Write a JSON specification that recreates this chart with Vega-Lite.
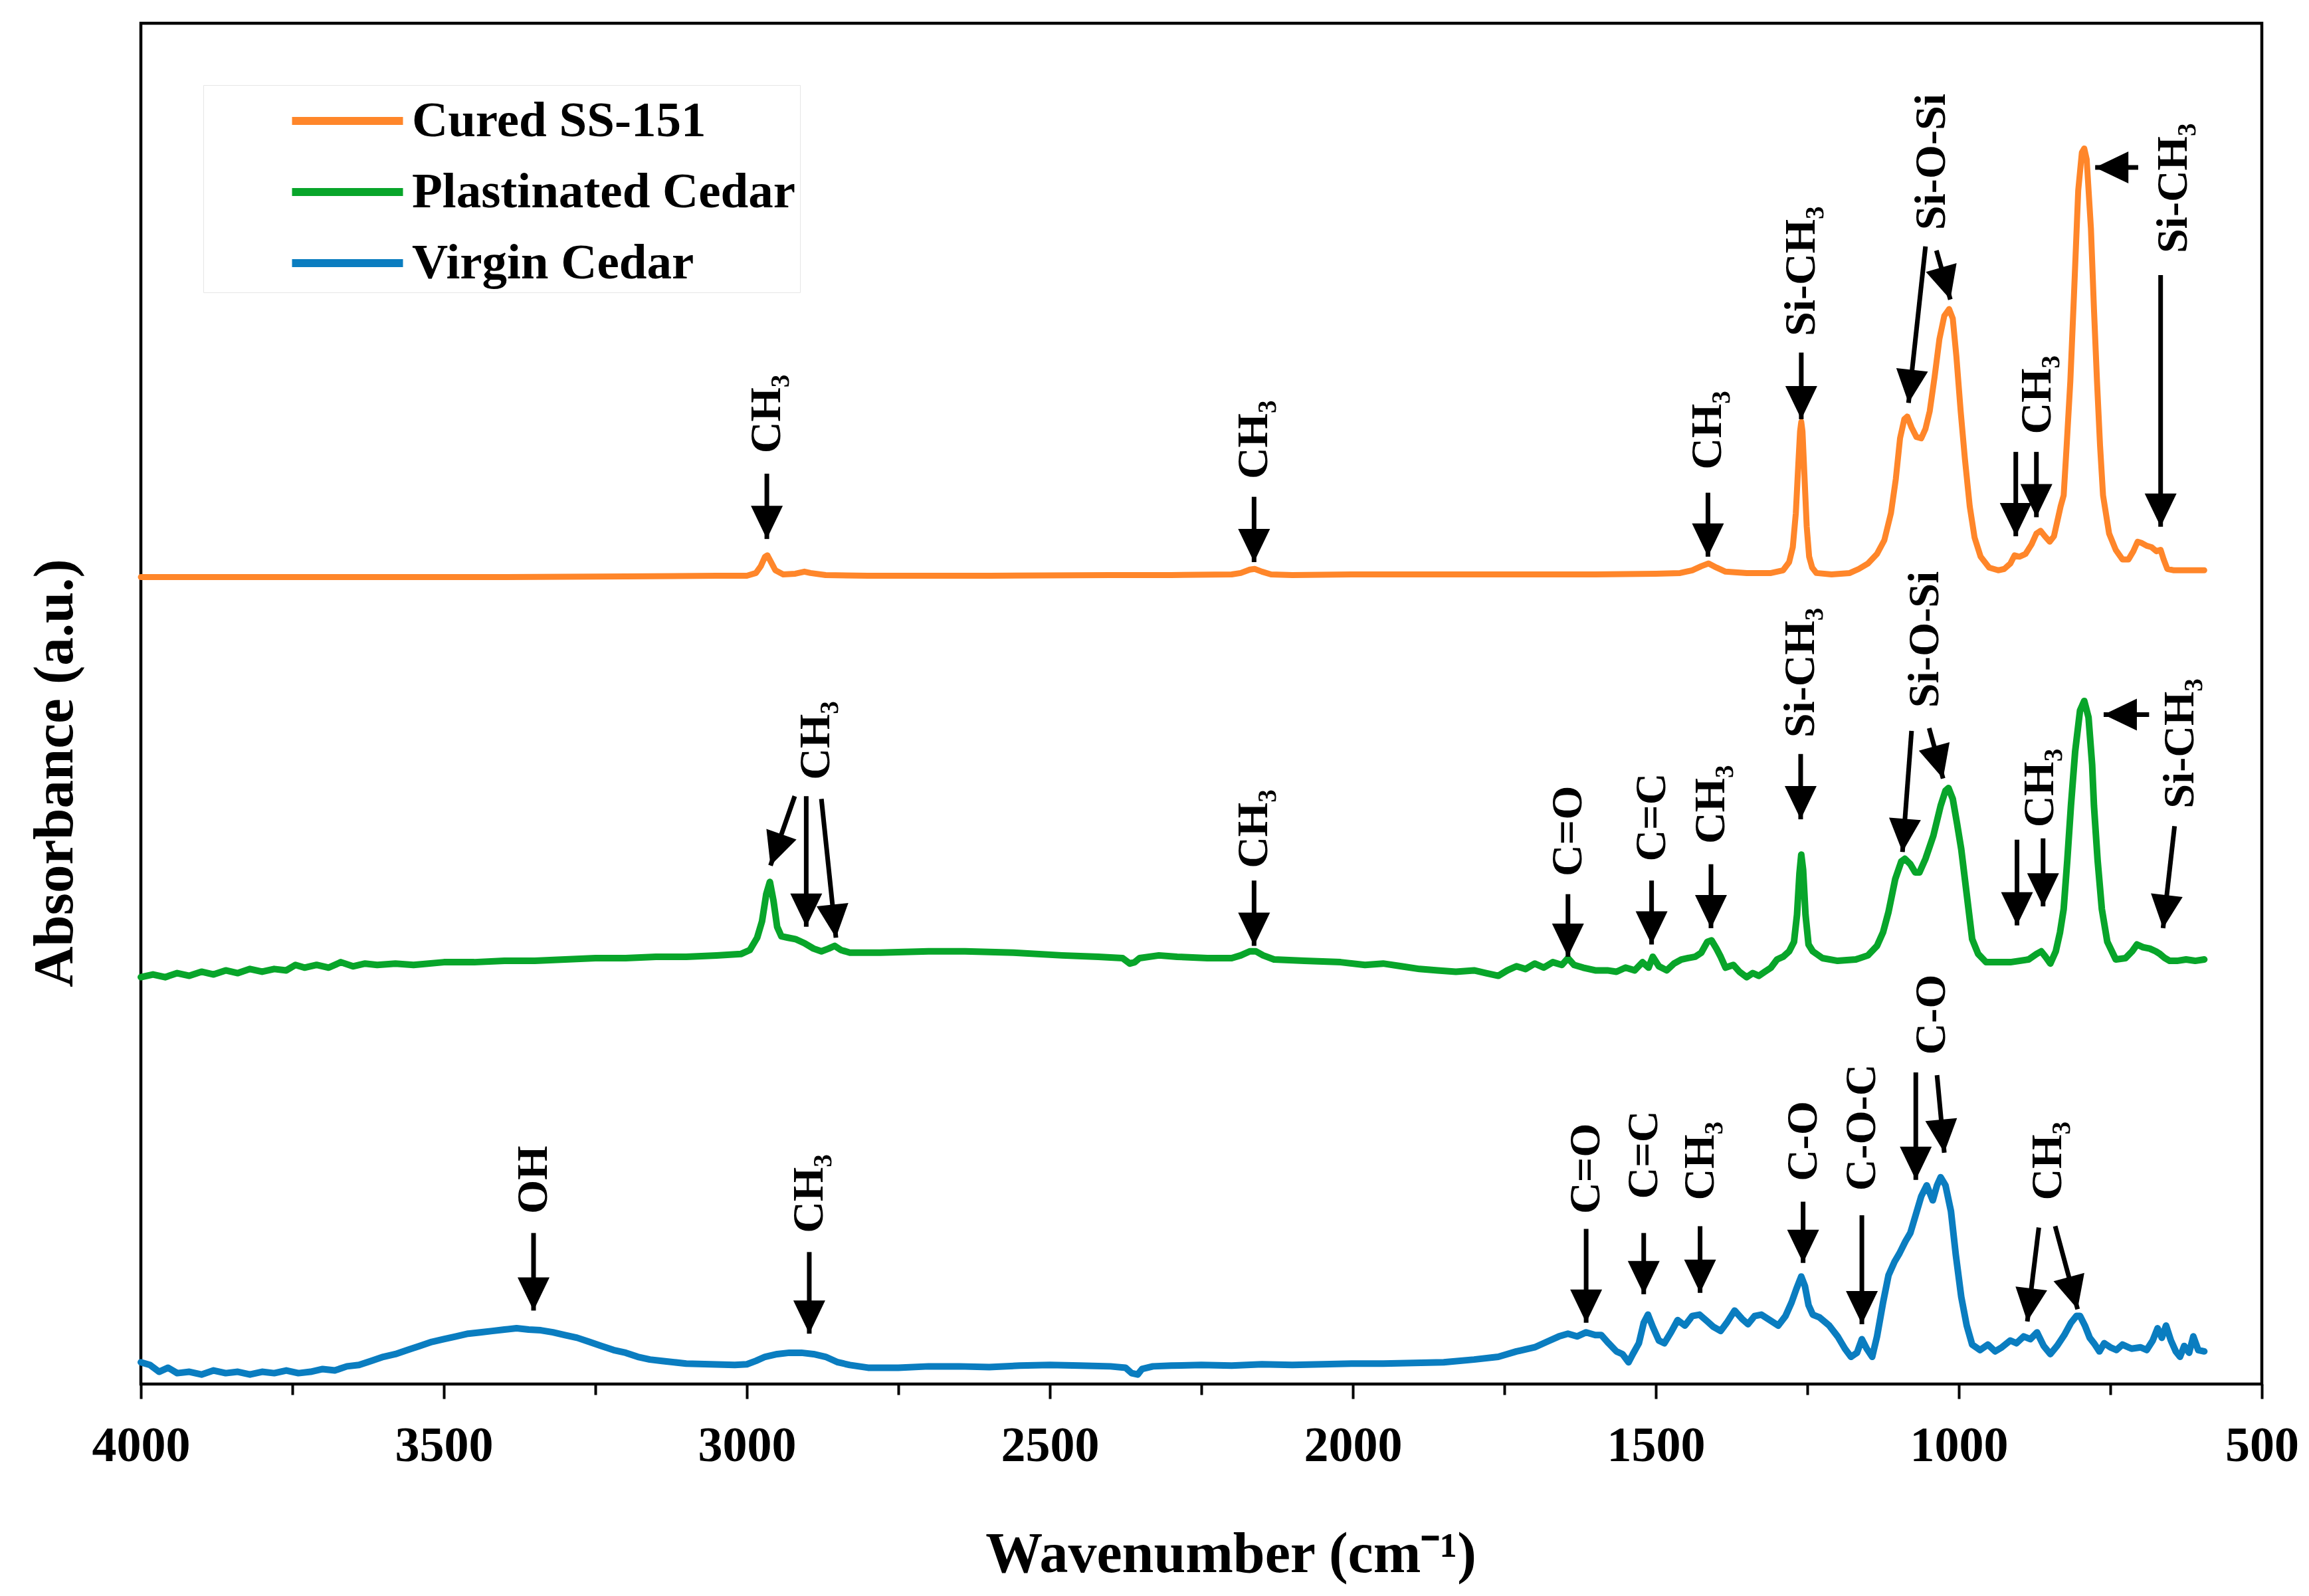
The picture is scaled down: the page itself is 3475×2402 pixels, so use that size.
{
  "$schema": "https://vega.github.io/schema/vega-lite/v6.json",
  "width": 3192,
  "height": 2048,
  "autosize": "none",
  "padding": {"left": 212, "top": 35, "right": 71, "bottom": 319},
  "background": "white",
  "config": {
    "font": "Liberation Serif",
    "view": {"stroke": "black", "strokeWidth": 4.5}
  },
  "datasets": {
    "cured": [
      {"wn":4000,"a":59.3},{"wn":3800,"a":59.3},{"wn":3600,"a":59.3},{"wn":3400,"a":59.3},{"wn":3200,"a":59.35},{"wn":3050,"a":59.4},{"wn":3000,"a":59.4},{"wn":2985,"a":59.6},{"wn":2977,"a":60.1},{"wn":2970,"a":60.8},{"wn":2966,"a":60.9},{"wn":2960,"a":60.4},{"wn":2953,"a":59.8},{"wn":2940,"a":59.5},{"wn":2920,"a":59.55},{"wn":2905,"a":59.7},{"wn":2895,"a":59.6},{"wn":2870,"a":59.45},{"wn":2800,"a":59.4},{"wn":2600,"a":59.4},{"wn":2400,"a":59.45},{"wn":2300,"a":59.45},{"wn":2200,"a":59.5},{"wn":2185,"a":59.6},{"wn":2170,"a":59.85},{"wn":2162,"a":59.9},{"wn":2150,"a":59.7},{"wn":2135,"a":59.5},{"wn":2100,"a":59.45},{"wn":2000,"a":59.5},{"wn":1800,"a":59.5},{"wn":1600,"a":59.5},{"wn":1500,"a":59.55},{"wn":1460,"a":59.6},{"wn":1440,"a":59.8},{"wn":1425,"a":60.1},{"wn":1413,"a":60.3},{"wn":1400,"a":60.0},{"wn":1385,"a":59.7},{"wn":1350,"a":59.6},{"wn":1310,"a":59.6},{"wn":1290,"a":59.8},{"wn":1280,"a":60.4},{"wn":1274,"a":61.5},{"wn":1269,"a":64},{"wn":1265,"a":67.5},{"wn":1262,"a":70},{"wn":1260,"a":70.7},{"wn":1258,"a":70},{"wn":1255,"a":67},{"wn":1251,"a":63},{"wn":1247,"a":60.8},{"wn":1242,"a":60},{"wn":1235,"a":59.6},{"wn":1210,"a":59.5},{"wn":1180,"a":59.6},{"wn":1165,"a":59.9},{"wn":1150,"a":60.3},{"wn":1135,"a":61},{"wn":1123,"a":62},{"wn":1112,"a":64},{"wn":1104,"a":66.5},{"wn":1097,"a":69.5},{"wn":1090,"a":70.9},{"wn":1085,"a":71.1},{"wn":1078,"a":70.3},{"wn":1070,"a":69.6},{"wn":1062,"a":69.5},{"wn":1055,"a":70.2},{"wn":1048,"a":71.5},{"wn":1040,"a":74},{"wn":1032,"a":76.8},{"wn":1024,"a":78.5},{"wn":1016,"a":79.0},{"wn":1010,"a":78.3},{"wn":1004,"a":75.5},{"wn":997,"a":71.5},{"wn":990,"a":68},{"wn":982,"a":64.5},{"wn":974,"a":62.2},{"wn":964,"a":60.8},{"wn":950,"a":60},{"wn":935,"a":59.8},{"wn":925,"a":59.9},{"wn":915,"a":60.3},{"wn":908,"a":60.9},{"wn":900,"a":60.8},{"wn":890,"a":61},{"wn":880,"a":61.7},{"wn":872,"a":62.5},{"wn":865,"a":62.7},{"wn":858,"a":62.3},{"wn":850,"a":61.9},{"wn":843,"a":62.3},{"wn":837,"a":63.5},{"wn":832,"a":64.5},{"wn":827,"a":65.3},{"wn":822,"a":69},{"wn":816,"a":73.7},{"wn":810,"a":80},{"wn":803,"a":87.7},{"wn":797,"a":90.5},{"wn":793,"a":90.8},{"wn":789,"a":90},{"wn":782,"a":84.9},{"wn":777,"a":79},{"wn":772,"a":73.7},{"wn":767,"a":69},{"wn":762,"a":65.3},{"wn":752,"a":62.5},{"wn":741,"a":61.3},{"wn":730,"a":60.6},{"wn":720,"a":60.6},{"wn":712,"a":61.2},{"wn":705,"a":61.9},{"wn":698,"a":61.8},{"wn":690,"a":61.6},{"wn":682,"a":61.5},{"wn":674,"a":61.2},{"wn":667,"a":61.3},{"wn":662,"a":60.6},{"wn":656,"a":59.9},{"wn":645,"a":59.8},{"wn":620,"a":59.8},{"wn":595,"a":59.8}
    ],
    "plastinated": [
      {"wn":4000,"a":29.9},{"wn":3980,"a":30.1},{"wn":3960,"a":29.9},{"wn":3940,"a":30.2},{"wn":3920,"a":30.0},{"wn":3900,"a":30.3},{"wn":3880,"a":30.1},{"wn":3860,"a":30.4},{"wn":3840,"a":30.2},{"wn":3820,"a":30.5},{"wn":3800,"a":30.3},{"wn":3780,"a":30.5},{"wn":3760,"a":30.4},{"wn":3745,"a":30.8},{"wn":3730,"a":30.6},{"wn":3710,"a":30.8},{"wn":3690,"a":30.6},{"wn":3670,"a":31.0},{"wn":3650,"a":30.7},{"wn":3630,"a":30.9},{"wn":3610,"a":30.8},{"wn":3580,"a":30.9},{"wn":3550,"a":30.8},{"wn":3500,"a":31.0},{"wn":3450,"a":31.0},{"wn":3400,"a":31.1},{"wn":3350,"a":31.1},{"wn":3300,"a":31.2},{"wn":3250,"a":31.3},{"wn":3200,"a":31.3},{"wn":3150,"a":31.4},{"wn":3100,"a":31.4},{"wn":3050,"a":31.5},{"wn":3010,"a":31.6},{"wn":2995,"a":31.9},{"wn":2983,"a":32.8},{"wn":2975,"a":34.0},{"wn":2968,"a":36},{"wn":2962,"a":36.9},{"wn":2956,"a":35.5},{"wn":2950,"a":33.6},{"wn":2943,"a":32.9},{"wn":2932,"a":32.8},{"wn":2920,"a":32.7},{"wn":2905,"a":32.4},{"wn":2890,"a":32.0},{"wn":2877,"a":31.8},{"wn":2865,"a":32.0},{"wn":2855,"a":32.2},{"wn":2845,"a":31.9},{"wn":2830,"a":31.7},{"wn":2780,"a":31.7},{"wn":2700,"a":31.8},{"wn":2640,"a":31.8},{"wn":2560,"a":31.7},{"wn":2480,"a":31.5},{"wn":2420,"a":31.4},{"wn":2380,"a":31.3},{"wn":2368,"a":30.9},{"wn":2360,"a":31.0},{"wn":2352,"a":31.3},{"wn":2320,"a":31.5},{"wn":2290,"a":31.4},{"wn":2240,"a":31.3},{"wn":2200,"a":31.3},{"wn":2185,"a":31.5},{"wn":2170,"a":31.8},{"wn":2160,"a":31.8},{"wn":2148,"a":31.5},{"wn":2130,"a":31.2},{"wn":2080,"a":31.1},{"wn":2020,"a":31.0},{"wn":1980,"a":30.8},{"wn":1950,"a":30.9},{"wn":1920,"a":30.7},{"wn":1890,"a":30.5},{"wn":1860,"a":30.4},{"wn":1830,"a":30.3},{"wn":1800,"a":30.4},{"wn":1780,"a":30.2},{"wn":1760,"a":30.0},{"wn":1745,"a":30.4},{"wn":1730,"a":30.7},{"wn":1715,"a":30.5},{"wn":1700,"a":30.9},{"wn":1685,"a":30.6},{"wn":1670,"a":31.0},{"wn":1655,"a":30.8},{"wn":1645,"a":31.3},{"wn":1635,"a":30.8},{"wn":1620,"a":30.6},{"wn":1600,"a":30.4},{"wn":1580,"a":30.4},{"wn":1565,"a":30.3},{"wn":1550,"a":30.6},{"wn":1535,"a":30.4},{"wn":1522,"a":31.0},{"wn":1512,"a":30.6},{"wn":1505,"a":31.4},{"wn":1495,"a":30.7},{"wn":1482,"a":30.4},{"wn":1470,"a":30.9},{"wn":1458,"a":31.2},{"wn":1447,"a":31.3},{"wn":1435,"a":31.4},{"wn":1425,"a":31.7},{"wn":1415,"a":32.5},{"wn":1408,"a":32.6},{"wn":1400,"a":32.0},{"wn":1393,"a":31.4},{"wn":1385,"a":30.6},{"wn":1372,"a":30.8},{"wn":1362,"a":30.3},{"wn":1350,"a":29.9},{"wn":1340,"a":30.2},{"wn":1330,"a":30.0},{"wn":1320,"a":30.3},{"wn":1310,"a":30.6},{"wn":1300,"a":31.2},{"wn":1290,"a":31.4},{"wn":1280,"a":31.8},{"wn":1272,"a":32.5},{"wn":1267,"a":34.5},{"wn":1263,"a":37.5},{"wn":1260,"a":38.9},{"wn":1257,"a":37.8},{"wn":1253,"a":34.5},{"wn":1248,"a":32.3},{"wn":1241,"a":31.8},{"wn":1225,"a":31.3},{"wn":1200,"a":31.1},{"wn":1170,"a":31.2},{"wn":1150,"a":31.5},{"wn":1135,"a":32.2},{"wn":1125,"a":33.2},{"wn":1116,"a":34.7},{"wn":1105,"a":37.1},{"wn":1095,"a":38.4},{"wn":1089,"a":38.6},{"wn":1080,"a":38.2},{"wn":1072,"a":37.6},{"wn":1065,"a":37.6},{"wn":1055,"a":38.6},{"wn":1042,"a":40.3},{"wn":1030,"a":42.5},{"wn":1022,"a":43.6},{"wn":1017,"a":43.8},{"wn":1010,"a":43.0},{"wn":1003,"a":41.2},{"wn":996,"a":39.3},{"wn":987,"a":36.0},{"wn":978,"a":32.7},{"wn":968,"a":31.6},{"wn":955,"a":31.0},{"wn":935,"a":31.0},{"wn":915,"a":31.0},{"wn":900,"a":31.1},{"wn":885,"a":31.2},{"wn":872,"a":31.6},{"wn":864,"a":31.8},{"wn":857,"a":31.4},{"wn":849,"a":30.9},{"wn":840,"a":31.8},{"wn":833,"a":33.2},{"wn":827,"a":34.9},{"wn":821,"a":38.5},{"wn":815,"a":42.5},{"wn":808,"a":46.5},{"wn":800,"a":49.5},{"wn":793,"a":50.2},{"wn":786,"a":49.0},{"wn":780,"a":45.5},{"wn":777,"a":42.5},{"wn":771,"a":38.5},{"wn":764,"a":34.9},{"wn":755,"a":32.5},{"wn":741,"a":31.2},{"wn":725,"a":31.3},{"wn":714,"a":31.8},{"wn":706,"a":32.3},{"wn":696,"a":32.1},{"wn":685,"a":32.0},{"wn":675,"a":31.8},{"wn":668,"a":31.6},{"wn":660,"a":31.3},{"wn":652,"a":31.1},{"wn":640,"a":31.1},{"wn":625,"a":31.2},{"wn":610,"a":31.1},{"wn":595,"a":31.2}
    ],
    "virgin": [
      {"wn":4000,"a":1.6},{"wn":3985,"a":1.4},{"wn":3970,"a":0.9},{"wn":3955,"a":1.2},{"wn":3940,"a":0.8},{"wn":3920,"a":0.9},{"wn":3900,"a":0.7},{"wn":3880,"a":1.0},{"wn":3860,"a":0.8},{"wn":3840,"a":0.9},{"wn":3820,"a":0.7},{"wn":3800,"a":0.9},{"wn":3780,"a":0.8},{"wn":3760,"a":1.0},{"wn":3740,"a":0.8},{"wn":3720,"a":0.9},{"wn":3700,"a":1.1},{"wn":3680,"a":1.0},{"wn":3660,"a":1.3},{"wn":3640,"a":1.4},{"wn":3620,"a":1.7},{"wn":3600,"a":2.0},{"wn":3580,"a":2.2},{"wn":3560,"a":2.5},{"wn":3540,"a":2.8},{"wn":3520,"a":3.1},{"wn":3500,"a":3.3},{"wn":3480,"a":3.5},{"wn":3460,"a":3.7},{"wn":3440,"a":3.8},{"wn":3420,"a":3.9},{"wn":3400,"a":4.0},{"wn":3380,"a":4.1},{"wn":3360,"a":4.0},{"wn":3340,"a":3.95},{"wn":3320,"a":3.8},{"wn":3300,"a":3.6},{"wn":3280,"a":3.4},{"wn":3260,"a":3.1},{"wn":3240,"a":2.8},{"wn":3220,"a":2.5},{"wn":3200,"a":2.3},{"wn":3180,"a":2.0},{"wn":3160,"a":1.8},{"wn":3140,"a":1.7},{"wn":3120,"a":1.6},{"wn":3100,"a":1.5},{"wn":3060,"a":1.45},{"wn":3020,"a":1.4},{"wn":3000,"a":1.45},{"wn":2985,"a":1.7},{"wn":2970,"a":2.0},{"wn":2950,"a":2.2},{"wn":2930,"a":2.3},{"wn":2910,"a":2.3},{"wn":2890,"a":2.2},{"wn":2870,"a":2.0},{"wn":2850,"a":1.6},{"wn":2830,"a":1.4},{"wn":2800,"a":1.2},{"wn":2750,"a":1.2},{"wn":2700,"a":1.3},{"wn":2650,"a":1.3},{"wn":2600,"a":1.25},{"wn":2550,"a":1.35},{"wn":2500,"a":1.4},{"wn":2450,"a":1.35},{"wn":2400,"a":1.3},{"wn":2375,"a":1.2},{"wn":2365,"a":0.8},{"wn":2355,"a":0.7},{"wn":2348,"a":1.1},{"wn":2330,"a":1.3},{"wn":2300,"a":1.35},{"wn":2250,"a":1.4},{"wn":2200,"a":1.35},{"wn":2150,"a":1.45},{"wn":2100,"a":1.4},{"wn":2050,"a":1.45},{"wn":2000,"a":1.5},{"wn":1950,"a":1.5},{"wn":1900,"a":1.55},{"wn":1850,"a":1.6},{"wn":1800,"a":1.8},{"wn":1760,"a":2.0},{"wn":1730,"a":2.4},{"wn":1700,"a":2.7},{"wn":1680,"a":3.1},{"wn":1660,"a":3.5},{"wn":1645,"a":3.7},{"wn":1630,"a":3.5},{"wn":1615,"a":3.8},{"wn":1600,"a":3.6},{"wn":1590,"a":3.6},{"wn":1578,"a":3.0},{"wn":1565,"a":2.4},{"wn":1555,"a":2.2},{"wn":1545,"a":1.6},{"wn":1538,"a":2.2},{"wn":1528,"a":3.0},{"wn":1520,"a":4.5},{"wn":1513,"a":5.1},{"wn":1505,"a":4.2},{"wn":1495,"a":3.2},{"wn":1486,"a":3.0},{"wn":1475,"a":3.8},{"wn":1464,"a":4.7},{"wn":1452,"a":4.3},{"wn":1440,"a":5.0},{"wn":1428,"a":5.1},{"wn":1415,"a":4.6},{"wn":1405,"a":4.2},{"wn":1393,"a":3.9},{"wn":1383,"a":4.5},{"wn":1370,"a":5.4},{"wn":1358,"a":4.8},{"wn":1348,"a":4.4},{"wn":1337,"a":5.0},{"wn":1326,"a":5.1},{"wn":1312,"a":4.7},{"wn":1298,"a":4.3},{"wn":1286,"a":5.0},{"wn":1276,"a":6.0},{"wn":1268,"a":7.0},{"wn":1260,"a":7.9},{"wn":1254,"a":7.2},{"wn":1248,"a":5.8},{"wn":1241,"a":5.1},{"wn":1230,"a":4.9},{"wn":1214,"a":4.3},{"wn":1200,"a":3.5},{"wn":1188,"a":2.6},{"wn":1178,"a":2.0},{"wn":1168,"a":2.3},{"wn":1160,"a":3.3},{"wn":1152,"a":2.6},{"wn":1143,"a":2.0},{"wn":1135,"a":3.5},{"wn":1125,"a":6.0},{"wn":1116,"a":8.0},{"wn":1106,"a":9.0},{"wn":1098,"a":9.6},{"wn":1088,"a":10.5},{"wn":1080,"a":11.1},{"wn":1072,"a":12.3},{"wn":1062,"a":13.8},{"wn":1053,"a":14.6},{"wn":1043,"a":13.5},{"wn":1036,"a":14.6},{"wn":1030,"a":15.2},{"wn":1022,"a":14.6},{"wn":1013,"a":12.7},{"wn":1005,"a":9.5},{"wn":996,"a":6.4},{"wn":987,"a":4.3},{"wn":978,"a":2.9},{"wn":965,"a":2.5},{"wn":952,"a":2.9},{"wn":940,"a":2.4},{"wn":929,"a":2.7},{"wn":915,"a":3.2},{"wn":905,"a":3.0},{"wn":893,"a":3.5},{"wn":882,"a":3.3},{"wn":871,"a":3.8},{"wn":860,"a":2.8},{"wn":849,"a":2.2},{"wn":838,"a":2.8},{"wn":826,"a":3.6},{"wn":815,"a":4.5},{"wn":806,"a":5.0},{"wn":800,"a":5.0},{"wn":792,"a":4.3},{"wn":784,"a":3.4},{"wn":777,"a":3.0},{"wn":768,"a":2.4},{"wn":760,"a":3.0},{"wn":750,"a":2.7},{"wn":740,"a":2.5},{"wn":730,"a":2.9},{"wn":715,"a":2.6},{"wn":700,"a":2.7},{"wn":690,"a":2.5},{"wn":680,"a":3.2},{"wn":672,"a":4.1},{"wn":665,"a":3.4},{"wn":658,"a":4.3},{"wn":650,"a":3.2},{"wn":642,"a":2.4},{"wn":635,"a":2.0},{"wn":628,"a":2.8},{"wn":620,"a":2.3},{"wn":613,"a":3.5},{"wn":605,"a":2.5},{"wn":595,"a":2.4}
    ],
    "labels": [
      {"label":"CH₃","wn":2967,"a":68.4},
      {"label":"CH₃","wn":2163,"a":66.5},
      {"label":"CH₃","wn":1414,"a":67.2},
      {"label":"Si-CH₃","wn":1260,"a":77.0},
      {"label":"Si-O-Si","wn":1045,"a":84.8},
      {"label":"CH₃","wn":871,"a":69.8},
      {"label":"Si-CH₃","wn":646,"a":83.1},
      {"label":"CH₃","wn":2886,"a":44.4},
      {"label":"CH₃","wn":2163,"a":37.9},
      {"label":"C=O","wn":1645,"a":37.3},
      {"label":"C=C","wn":1507,"a":38.4},
      {"label":"CH₃","wn":1409,"a":39.7},
      {"label":"Si-CH₃","wn":1261,"a":47.5},
      {"label":"Si-O-Si","wn":1056,"a":49.7},
      {"label":"CH₃","wn":866,"a":40.9},
      {"label":"Si-CH₃","wn":635,"a":42.3},
      {"label":"OH","wn":3352,"a":12.5},
      {"label":"CH₃","wn":2897,"a":11.1},
      {"label":"C=O","wn":1615,"a":12.5},
      {"label":"C=C","wn":1520,"a":13.6},
      {"label":"CH₃","wn":1427,"a":13.5},
      {"label":"C-O","wn":1257,"a":14.9},
      {"label":"C-O-C","wn":1160,"a":14.2},
      {"label":"C-O","wn":1045,"a":24.2},
      {"label":"CH₃","wn":853,"a":13.5}
    ],
    "arrows": [
      {"wn":2967,"a":66.9,"wn2":2967,"a2":62.1},
      {"wn":2163,"a":65.2,"wn2":2163,"a2":60.4},
      {"wn":1414,"a":65.5,"wn2":1414,"a2":60.8},
      {"wn":1260,"a":75.8,"wn2":1260,"a2":70.9},
      {"wn":1055,"a":83.6,"wn2":1083,"a2":72.1},
      {"wn":1037,"a":83.3,"wn2":1014,"a2":79.7},
      {"wn":906,"a":68.5,"wn2":906,"a2":62.3},
      {"wn":872,"a":68.5,"wn2":872,"a2":63.7},
      {"wn":704,"a":89.4,"wn2":775,"a2":89.4},
      {"wn":667,"a":81.5,"wn2":667,"a2":63.0},
      {"wn":2921,"a":43.2,"wn2":2961,"a2":38.1},
      {"wn":2902,"a":43.2,"wn2":2902,"a2":33.6},
      {"wn":2877,"a":43.0,"wn2":2853,"a2":32.8},
      {"wn":2163,"a":37.0,"wn2":2163,"a2":32.2},
      {"wn":1645,"a":36.0,"wn2":1645,"a2":31.4},
      {"wn":1507,"a":37.0,"wn2":1507,"a2":32.3},
      {"wn":1409,"a":38.2,"wn2":1409,"a2":33.5},
      {"wn":1261,"a":46.3,"wn2":1261,"a2":41.5},
      {"wn":1078,"a":48.0,"wn2":1093,"a2":39.1},
      {"wn":1049,"a":48.2,"wn2":1026,"a2":44.5},
      {"wn":904,"a":40.0,"wn2":904,"a2":33.7},
      {"wn":861,"a":40.1,"wn2":861,"a2":35.1},
      {"wn":686,"a":49.2,"wn2":761,"a2":49.2},
      {"wn":644,"a":41.0,"wn2":663,"a2":33.5},
      {"wn":3352,"a":11.1,"wn2":3352,"a2":5.4},
      {"wn":2897,"a":9.7,"wn2":2897,"a2":3.7},
      {"wn":1615,"a":11.4,"wn2":1615,"a2":4.5},
      {"wn":1520,"a":11.1,"wn2":1520,"a2":6.6},
      {"wn":1427,"a":11.6,"wn2":1427,"a2":6.7},
      {"wn":1257,"a":13.4,"wn2":1257,"a2":8.9},
      {"wn":1160,"a":12.4,"wn2":1160,"a2":4.4},
      {"wn":1071,"a":22.9,"wn2":1071,"a2":15.0},
      {"wn":1036,"a":22.7,"wn2":1024,"a2":17.0},
      {"wn":868,"a":11.5,"wn2":887,"a2":4.6},
      {"wn":841,"a":11.6,"wn2":804,"a2":5.5}
    ]
  },
  "layer": [
    {
      "data": {"name": "cured"},
      "mark": {"type": "line", "strokeWidth": 9, "strokeJoin": "round", "strokeCap": "round"},
      "encoding": {
        "x": {
          "field": "wn", "type": "quantitative",
          "scale": {"domain": [500, 4000], "reverse": true, "nice": false},
          "axis": {
            "title": "Wavenumber (cm⁻¹)",
            "values": [500, 750, 1000, 1250, 1500, 1750, 2000, 2250, 2500, 2750, 3000, 3250, 3500, 3750, 4000],
            "format": "d",
            "labelExpr": "datum.value % 500 === 0 ? datum.label : ''",
            "tickSize": {"condition": {"test": "datum.value % 500 === 0", "value": 22}, "value": 16},
            "tickWidth": 4,
            "tickColor": "black",
            "domain": false,
            "grid": false,
            "labelFont": "Liberation Serif",
            "labelFontWeight": "bold",
            "labelFontSize": 74,
            "labelColor": "black",
            "labelBaseline": "alphabetic",
            "labelPadding": 93,
            "labelFlush": false,
            "labelOverlap": false,
            "titleFont": "Liberation Serif",
            "titleFontWeight": "bold",
            "titleFontSize": 86,
            "titleColor": "black",
            "titleBaseline": "alphabetic",
            "titleAlign": "center",
            "titleX": 1640,
            "titleY": 282
          }
        },
        "y": {
          "field": "a", "type": "quantitative",
          "scale": {"domain": [0, 100], "nice": false},
          "axis": {
            "title": "Absorbance (a.u.)",
            "ticks": false,
            "labels": false,
            "domain": false,
            "grid": false,
            "titleFont": "Liberation Serif",
            "titleFontWeight": "bold",
            "titleFontSize": 85,
            "titleColor": "black",
            "titleAngle": 270,
            "titleAlign": "center",
            "titleBaseline": "alphabetic",
            "titleX": -104,
            "titleY": 1128
          }
        },
        "color": {
          "datum": "Cured SS-151",
          "type": "nominal",
          "scale": {
            "domain": ["Cured SS-151", "Plastinated Cedar", "Virgin Cedar"],
            "range": ["#FF862A", "#08A52A", "#0A7DC0"]
          },
          "legend": {
            "title": null,
            "orient": "none",
            "legendX": 94,
            "legendY": 93,
            "padding": 6,
            "strokeColor": "#e6e6e6",
            "fillColor": "white",
            "symbolType": "M-2,0L2,0",
            "symbolSize": 6972,
            "symbolStrokeWidth": 12,
            "symbolStrokeCap": "round",
            "symbolOffset": 163,
            "labelFont": "Liberation Serif",
            "labelFontWeight": "bold",
            "labelFontSize": 75,
            "labelColor": "black",
            "labelOffset": 49,
            "labelLimit": 1000,
            "rowPadding": 21
          }
        }
      }
    },
    {
      "data": {"name": "plastinated"},
      "mark": {"type": "line", "strokeWidth": 10, "strokeJoin": "round", "strokeCap": "round"},
      "encoding": {
        "x": {"field": "wn", "type": "quantitative"},
        "y": {"field": "a", "type": "quantitative"},
        "color": {"datum": "Plastinated Cedar", "type": "nominal"}
      }
    },
    {
      "data": {"name": "virgin"},
      "mark": {"type": "line", "strokeWidth": 10, "strokeJoin": "round", "strokeCap": "round"},
      "encoding": {
        "x": {"field": "wn", "type": "quantitative"},
        "y": {"field": "a", "type": "quantitative"},
        "color": {"datum": "Virgin Cedar", "type": "nominal"}
      }
    },
    {
      "data": {"name": "arrows"},
      "mark": {"type": "rule", "strokeWidth": 7, "color": "black"},
      "encoding": {
        "x": {"field": "wn", "type": "quantitative"},
        "y": {"field": "a", "type": "quantitative"},
        "x2": {"field": "wn2"},
        "y2": {"field": "a2"}
      }
    },
    {
      "data": {"name": "arrows"},
      "transform": [
        {"calculate": "atan2((datum.wn2 - datum.wn) * 0.912, -(datum.a2 - datum.a) * 20.48) * 180 / PI", "as": "ang"}
      ],
      "mark": {"type": "point", "shape": "M0,0L-0.48,-1L0.48,-1Z", "size": 10000, "filled": true, "color": "black", "opacity": 1, "strokeWidth": 0},
      "encoding": {
        "x": {"field": "wn2", "type": "quantitative"},
        "y": {"field": "a2", "type": "quantitative"},
        "angle": {"field": "ang", "type": "quantitative", "scale": null}
      }
    },
    {
      "data": {"name": "labels"},
      "mark": {"type": "text", "angle": 270, "align": "left", "baseline": "middle", "font": "Liberation Serif", "fontWeight": "bold", "fontSize": 66, "color": "black"},
      "encoding": {
        "x": {"field": "wn", "type": "quantitative"},
        "y": {"field": "a", "type": "quantitative"},
        "text": {"field": "label"}
      }
    }
  ]
}
